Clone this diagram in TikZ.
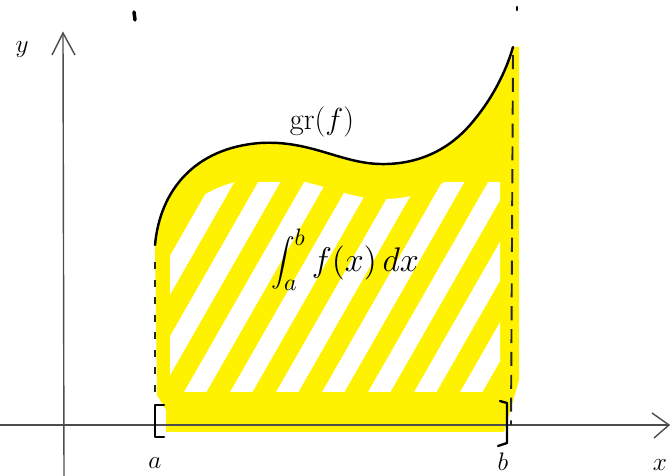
\documentclass[tikz,border=0pt]{standalone}
\begin{document}
\begin{tikzpicture}[x=0.02cm,y=-0.02cm,
  axis/.style={draw=black!70, line width=0.8pt},
  graphline/.style={draw=black, line width=1.4pt, line cap=round},
  bracketline/.style={draw=black, line width=1.3pt, line cap=round, line join=round},
  dashline/.style={draw=black!85, line width=1.1pt, dash pattern=on 4pt off 6pt},
  lbl/.style={font=\Large, inner sep=0pt},
  stripe/.style={draw=white, line width=11pt}]
\useasboundingbox (0,0) rectangle (670,476);
\def\curve{(155,245) .. controls (160,190) and (195,148) .. (260,143) .. controls (310,140) and (340,163) .. (380,164) .. controls (420,165) and (450,148) .. (470,125) .. controls (490,102) and (505,75) .. (513,47)}
% yellow region
\fill[yellow] \curve -- (519,47) -- (519,380) -- (504,432) -- (166,432) -- (166,410) -- (157,395) -- cycle;
% white hatching
\begin{scope}
  \clip (170,183) rectangle (500,392);
  \clip[yshift=-0.7cm] \curve -- (519,47) -- (519,430) -- (155,430) -- cycle;
  \foreach \s in {-4,...,9} {
    \draw[stripe] (185+46*\s,410) -- ++(140,-245);
  }
\end{scope}
% axes
\coordinate (yb) at (64,476);
\coordinate (yt) at (63,33);
\coordinate (xl) at (0,425);
\coordinate (xr) at (669,425);
\draw[axis] (yb) -- (yt);
\draw[axis] (52,55) -- (yt) -- (75,55);
\draw[axis] (xl) -- (xr);
\draw[axis] (652,413) -- (xr) -- (654,438);
% curve
\draw[graphline] \curve;
% dashed verticals
\coordinate (la) at (155,262);
\coordinate (lb) at (155,395);
\draw[dashline] (la) -- (lb);
\coordinate (ra) at (513,55);
\coordinate (rb) at (511,425);
\draw[dashline, dash pattern=on 8pt off 5pt] (ra) -- (rb);
% brackets
\draw[bracketline] (164,405) -- (155,405) -- (155,437) -- (164,437);
\draw[bracketline] (500,401) -- (507,403) -- (507,443) -- (498,446);
% stray marks
\draw[line width=2pt, line cap=round] (134,12) -- (135,20);
\draw[line width=1.5pt, line cap=round] (517,7) -- (517,10);
% labels
\node[lbl] (ylab) at (22,50) {$y$};
\node[lbl] (xlab) at (660,465) {$x$};
\node[lbl] (alab) at (155,463) {$a$};
\node[lbl] (blab) at (503,462) {$b$};
\node[lbl, font=\LARGE] (gr) at (322,122) {gr$(f)$};
\node[lbl, scale=1.35] (integ) at (345,260) {$\displaystyle\int_a^b f(x)\,dx$};
\end{tikzpicture}
\end{document}
